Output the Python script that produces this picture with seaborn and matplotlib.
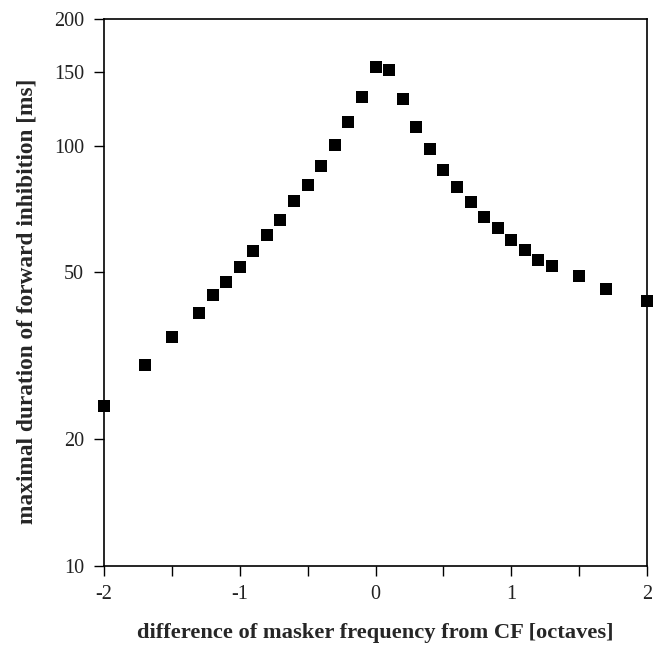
import matplotlib
matplotlib.use("Agg")
import matplotlib.pyplot as plt
import seaborn as sns
import pandas as pd
from matplotlib.ticker import FixedLocator, NullFormatter, NullLocator

sns.set_style("ticks")
plt.rcParams['font.family'] = ['Liberation Serif', 'DejaVu Serif']

octaves = [-2.0, -1.7, -1.5, -1.3, -1.2, -1.1, -1.0, -0.9, -0.8, -0.7, -0.6, -0.5,
           -0.4, -0.3, -0.2, -0.1, 0.0, 0.1, 0.2, 0.3, 0.4, 0.5, 0.6, 0.7, 0.8,
           0.9, 1.0, 1.1, 1.2, 1.3, 1.5, 1.7, 2.0]
duration = [24.0, 30.1, 35.0, 40.0, 44.1, 47.4, 51.4, 56.1, 61.4, 66.7, 73.8, 80.4,
            89.2, 100.3, 113.8, 130.5, 154.0, 151.3, 129.0, 110.7, 98.0, 87.5, 79.7,
            73.6, 67.6, 63.6, 59.6, 56.4, 53.5, 51.6, 49.0, 45.5, 42.6]
xticks = [-2, -1, 0, 1, 2]
xminor = [-1.5, -0.5, 0.5, 1.5]
yticks = [10, 20, 50, 100, 150, 200]

df = pd.DataFrame({"x": octaves, "y": duration})

fig = plt.figure(figsize=(6.6, 6.46), dpi=100)
ax = fig.add_axes([104/660, 1-566/646, (647-104)/660, (566-19)/646])
sns.scatterplot(data=df, x="x", y="y", marker="s", color="black", s=85,
                linewidth=0, ax=ax, clip_on=False, zorder=3)
ax.set_yscale("log")
ax.set_xlim(-2, 2)
ax.set_ylim(10, 200)
ax.yaxis.set_major_locator(FixedLocator(yticks))
ax.yaxis.set_minor_locator(NullLocator())
ax.set_yticklabels([str(t) for t in yticks])
ax.set_xticks(xticks)
ax.set_xticklabels([str(t) for t in xticks])
ax.xaxis.set_minor_locator(FixedLocator(xminor))
ax.xaxis.set_minor_formatter(NullFormatter())
ax.tick_params(axis="both", which="both", direction="out", length=7.5, width=1.0,
               color="black", labelsize=14.5, labelcolor="#222222")
ax.tick_params(axis="x", which="both", pad=6)
ax.tick_params(axis="y", which="both", pad=7)
for sp in ax.spines.values():
    sp.set_linewidth(1.2)
    sp.set_color("black")
ax.set_xlabel("difference of masker frequency from CF [octaves]",
              fontsize=16.2, fontweight="bold", labelpad=14)
ax.set_ylabel("maximal duration of forward inhibition [ms]",
              fontsize=16.8, fontweight="bold", labelpad=12)
ax.yaxis.set_label_coords(-0.123, 0.483)
fig.savefig("out.png", dpi=100)
